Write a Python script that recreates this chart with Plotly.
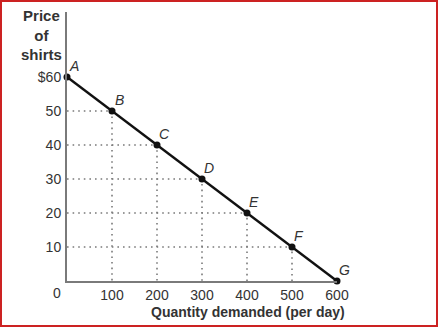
import plotly.graph_objects as go

# Demand schedule for shirts
points = ["A", "B", "C", "D", "E", "F", "G"]
quantity = [0, 100, 200, 300, 400, 500, 600]
price = [60, 50, 40, 30, 20, 10, 0]

y_ticks = [10, 20, 30, 40, 50, 60]
y_tick_text = ["10", "20", "30", "40", "50", "$60"]
x_ticks = [100, 200, 300, 400, 500, 600]
x_tick_text = ["100", "200", "300", "400", "500", "600"]

W, H = 438, 327
L, R, T, B = 67, 101, 12, 46
PW, PH = W - L - R, H - T - B

FONT = "Liberation Sans, Arial, sans-serif"
TXT = "#333333"

fig = go.Figure()

# Dotted guide lines from each interior point to both axes
for q, p in zip(quantity, price):
    if q == 0 or p == 0:
        continue
    fig.add_trace(go.Scatter(
        x=[0, q, q], y=[p, p, 0], mode="lines",
        line=dict(color="#7a7a7a", width=1.6, dash="1.6px,4px"),
        hoverinfo="skip", showlegend=False))

# Demand curve
fig.add_trace(go.Scatter(
    x=quantity, y=price, mode="lines+markers",
    line=dict(color="#111111", width=2.5),
    marker=dict(color="#111111", size=7),
    cliponaxis=False, showlegend=False))

# Point letters, just above and right of each point
for name, q, p in zip(points, quantity, price):
    fig.add_annotation(x=q, y=p, text=name, showarrow=False,
                       xanchor="center", yanchor="middle",
                       xshift=7, yshift=11,
                       font=dict(family=FONT, size=14, color=TXT,
                                 style="italic"))

ymax = PH / 34 * 10

fig.update_xaxes(
    range=[0, 600], showgrid=False, zeroline=False,
    showline=True, linecolor="#7a7a7a", linewidth=2,
    tickmode="array", tickvals=x_ticks, ticktext=x_tick_text,
    ticks="", tickfont=dict(family=FONT, size=14, color=TXT),
    ticklabelstandoff=0)
fig.update_yaxes(
    range=[0, ymax], showgrid=False, zeroline=False,
    showline=True, linecolor="#7a7a7a", linewidth=2,
    tickmode="array", tickvals=y_ticks, ticktext=y_tick_text,
    ticks="", tickfont=dict(family=FONT, size=14, color=TXT),
    ticklabelstandoff=1)


def px(xp):
    return (xp - L) / PW


def py(yp):
    return ((H - B) - yp) / PH


fig.add_annotation(x=px(57), y=py(293), xref="paper", yref="paper",
                   xanchor="center", yanchor="middle",
                   text="0", showarrow=False,
                   font=dict(family=FONT, size=14, color=TXT))
fig.add_annotation(x=px(248), y=py(312), xref="paper", yref="paper",
                   xanchor="center", yanchor="middle",
                   text="<b>Quantity demanded (per day)</b>", showarrow=False,
                   font=dict(family=FONT, size=14, color=TXT))
fig.add_annotation(x=px(41), y=py(35), xref="paper", yref="paper",
                   xanchor="center", yanchor="middle",
                   text="<b>Price<br>of<br>shirts</b>", showarrow=False,
                   font=dict(family=FONT, size=15, color=TXT))

# Red frame around the figure
fig.add_shape(type="rect", xref="paper", yref="paper",
              x0=px(1), x1=px(W - 1), y0=py(H - 1), y1=py(1),
              line=dict(color="#cc2222", width=2))

fig.update_layout(
    width=W, height=H,
    margin=dict(l=L, r=R, t=T, b=B),
    paper_bgcolor="white", plot_bgcolor="white",
    font=dict(family=FONT))

fig.write_html("out.html")
